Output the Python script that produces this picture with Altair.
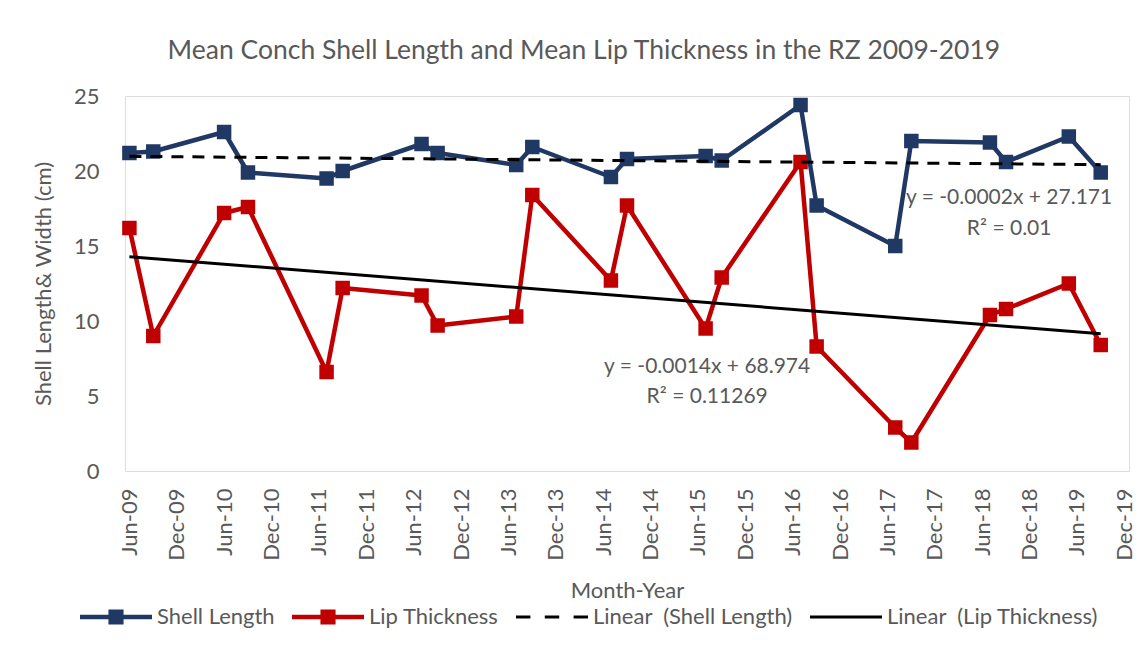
import altair as alt
import pandas as pd

FONT = "Lato"
GREY = "#595959"

# ---- data ----
dates = ["2009/06/01", "2009/09/01", "2010/06/01", "2010/09/01", "2011/07/01", "2011/09/01",
         "2012/07/01", "2012/09/01", "2013/07/01", "2013/09/01", "2014/07/01", "2014/09/01",
         "2015/07/01", "2015/09/01", "2016/07/01", "2016/09/01", "2017/07/01", "2017/09/01",
         "2018/07/01", "2018/09/01", "2019/05/01", "2019/09/01"]
shell_length = [21.2, 21.3, 22.6, 19.9, 19.5, 20.0, 21.8, 21.2, 20.4, 21.6, 19.6,
                20.8, 21.0, 20.7, 24.4, 17.7, 15.0, 22.0, 21.9, 20.6, 22.3, 19.9]
lip_thickness = [16.2, 9.0, 17.2, 17.6, 6.6, 12.2, 11.7, 9.7, 10.3, 18.4, 12.7,
                 17.7, 9.5, 12.9, 20.6, 8.3, 2.9, 1.9, 10.4, 10.8, 12.5, 8.4]

tick_dates = [(2009, 6), (2009, 12), (2010, 6), (2010, 12), (2011, 6), (2011, 12),
              (2012, 6), (2012, 12), (2013, 6), (2013, 12), (2014, 6), (2014, 12),
              (2015, 6), (2015, 12), (2016, 6), (2016, 12), (2017, 6), (2017, 12),
              (2018, 6), (2018, 12), (2019, 6), (2019, 12)]
y_ticks = [0, 5, 10, 15, 20, 25]

legend_names = ["Shell Length", "Lip Thickness",
                "Linear\u00a0 (Shell Length)", "Linear\u00a0 (Lip Thickness)"]
legend_colors = ["#203864", "#C00000", "#000000", "#000000"]
legend_shapes = [
    "M-1,-0.06H1V0.06H-1Z M-0.21,-0.21H0.21V0.21H-0.21Z",
    "M-1,-0.06H1V0.06H-1Z M-0.21,-0.21H0.21V0.21H-0.21Z",
    "M-1,-0.045H-0.6V0.045H-1Z M-0.2,-0.045H0.2V0.045H-0.2Z M0.6,-0.045H1V0.045H0.6Z",
    "M-1,-0.045H1V0.045H-1Z",
]

ann_text = ["y = -0.0002x + 27.171", "R\u00b2 = 0.01", "y = -0.0014x + 68.974", "R\u00b2 = 0.11269"]
ann_date = ["2018/09/13", "2018/09/13", "2015/07/07", "2015/07/07"]
ann_value = [18.2, 16.15, 6.93, 4.93]

df = pd.DataFrame({
    "date": dates * 2,
    "series": ["Shell Length"] * len(dates) + ["Lip Thickness"] * len(dates),
    "value": shell_length + lip_thickness,
})
ann_df = pd.DataFrame({"date": ann_date, "value": ann_value, "label": ann_text})

# ---- shared scales / axes ----
x_scale = alt.Scale(domain=[alt.DateTime(year=2009, month=5, date=15),
                            alt.DateTime(year=2019, month=12, date=19)])
x_axis = alt.Axis(values=[alt.DateTime(year=y, month=m, date=1) for y, m in tick_dates],
                  format="%b-%y", labelAngle=270, title="Month-Year",
                  grid=False, ticks=False, domain=False, labelOverlap=False, labelFlush=False,
                  labelFont=FONT, labelFontSize=22, labelColor=GREY, labelPadding=17,
                  titleFont=FONT, titleFontSize=22, titleColor=GREY, titleFontWeight="normal",
                  titlePadding=20)
y_scale = alt.Scale(domain=[0, 25], nice=False)
y_axis = alt.Axis(values=y_ticks, grid=False, ticks=False, domain=False,
                  title="Shell Length& Width (cm)",
                  labelFont=FONT, labelFontSize=22, labelColor=GREY, labelPadding=26,
                  titleFont=FONT, titleFontSize=22, titleColor=GREY, titleFontWeight="normal",
                  titlePadding=18)


def xenc(field):
    return alt.X(field, scale=x_scale, axis=x_axis)


def yenc():
    return alt.Y("value:Q", scale=y_scale, axis=y_axis)


base = alt.Chart(df)

layers = []
for name, color in [("Shell Length", "#203864"), ("Lip Thickness", "#C00000")]:
    sub = base.transform_filter(alt.datum.series == name)
    layers.append(sub.mark_line(color=color, strokeWidth=4.5, strokeJoin="round")
                  .encode(x=xenc("date:T"), y=yenc()))
    layers.append(sub.mark_point(shape="square", filled=True, color=color, size=210, opacity=1)
                  .encode(x=xenc("date:T"), y=yenc()))

for name, dash in [("Shell Length", [12, 9]), ("Lip Thickness", None)]:
    sub = (base.transform_filter(alt.datum.series == name)
           .transform_calculate(t="+toDate(datum.date)")
           .transform_regression("t", "value"))
    kw = dict(color="black", strokeWidth=3)
    if dash:
        kw["strokeDash"] = dash
    layers.append(sub.mark_line(**kw).encode(x=xenc("t:T"), y=yenc()))

ann = alt.Chart(ann_df).mark_text(font=FONT, fontSize=21, color=GREY, align="center",
                                  baseline="middle").encode(
    x=xenc("date:T"), y=yenc(), text="label:N")
layers.append(ann)

legend_def = alt.Legend(title=None, orient="none", legendX=-45, legendY=485,
                        direction="horizontal", columns=4, symbolSize=5184,
                        symbolStrokeWidth=0, symbolOpacity=1, labelFont=FONT,
                        labelFontSize=22, labelColor=GREY, labelOffset=5,
                        columnPadding=17, padding=0, labelLimit=400)
legend_layer = base.transform_filter("false").mark_point(filled=True, opacity=1).encode(
    color=alt.Color("series:N", scale=alt.Scale(domain=legend_names, range=legend_colors),
                    legend=legend_def),
    shape=alt.Shape("series:N", scale=alt.Scale(domain=legend_names, range=legend_shapes),
                    legend=legend_def),
)
layers.append(legend_layer)

chart = alt.layer(*layers).properties(
    width=1004, height=375,
    title=alt.TitleParams(
        text="Mean Conch Shell Length and Mean Lip Thickness in the RZ 2009-2019",
        font=FONT, fontSize=26.5, color=GREY, fontWeight="normal",
        anchor="middle", frame="bounds", baseline="alphabetic", offset=0),
    autosize=alt.AutoSizeParams(type="none"),
    padding={"left": 117, "top": 88, "right": 7, "bottom": 165},
).configure_view(stroke="#C8C8C8", strokeWidth=1.5).configure(background="white")

chart.save("out.html", embed_options={"renderer": "svg", "actions": False})
